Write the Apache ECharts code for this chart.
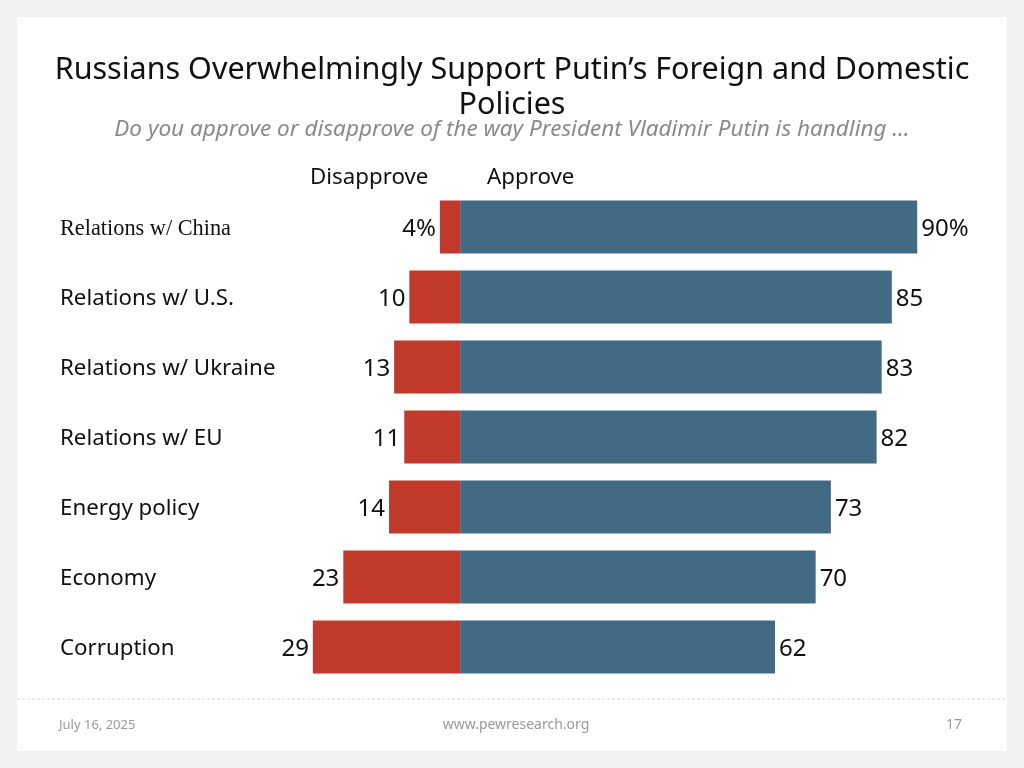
<!DOCTYPE html>
<html>
<head>
<meta charset="utf-8">
<script src="https://cdn.jsdelivr.net/npm/echarts@6/dist/echarts.min.js"></script>
<style>
html,body{margin:0;padding:0;background:#f2f2f2;}
#c{width:1024px;height:768px;}
</style>
</head>
<body>
<div id="c"></div>
<script>
const categories = ['Relations w/ China','Relations w/ U.S.','Relations w/ Ukraine','Relations w/ EU','Energy policy','Economy','Corruption'];
const disapprove = [4, 10, 13, 11, 14, 23, 29];
const approve = [90, 85, 83, 82, 73, 70, 62];
const seriesNames = ['Disapprove', 'Approve'];

const chart = echarts.init(document.getElementById('c'));
const sans = '"Noto Sans", "Open Sans", sans-serif';
chart.setOption({
  backgroundColor: '#f2f2f2',
  animation: false,
  title: [{
    text: 'Russians Overwhelmingly Support Putin\u2019s Foreign and Domestic\nPolicies',
    left: 'center', top: 48,
    textStyle: {fontFamily: sans, fontSize: 30.5, fontWeight: 'normal', color: '#111', lineHeight: 35}
  }, {
    text: 'Do you approve or disapprove of the way President Vladimir Putin is handling \u2026',
    left: 'center', top: 113,
    textStyle: {fontFamily: sans, fontSize: 22.5, fontStyle: 'italic', fontWeight: 'normal', color: '#8a8a8a'}
  }],
  graphic: [
    {type: 'rect', z: -10, shape: {x: 17, y: 17, width: 990, height: 734}, style: {fill: '#ffffff'}},
    {type: 'line', shape: {x1: 17, y1: 699, x2: 1007, y2: 699}, style: {stroke: '#d8d8d8', lineWidth: 1, lineDash: [3, 2]}},
    {type: 'text', x: 310, y: 178, style: {text: seriesNames[0], fontFamily: sans, fontSize: 22.3, fill: '#111', verticalAlign: 'middle'}},
    {type: 'text', x: 487, y: 178, style: {text: seriesNames[1], fontFamily: sans, fontSize: 22.3, fill: '#111', verticalAlign: 'middle'}},
    {type: 'text', x: 59, y: 725, style: {text: 'July 16, 2025', fontFamily: sans, fontSize: 13, fill: '#9a9a9a', verticalAlign: 'middle'}},
    {type: 'text', x: 516, y: 725, style: {text: 'www.pewresearch.org', fontFamily: sans, fontSize: 14, fill: '#9a9a9a', align: 'center', verticalAlign: 'middle'}},
    {type: 'text', x: 962, y: 725, style: {text: '17', fontFamily: sans, fontSize: 14, fill: '#9a9a9a', align: 'right', verticalAlign: 'middle'}}
  ],
  grid: {left: 257, right: 56, top: 192, bottom: 86, containLabel: false},
  xAxis: {type: 'value', min: -40, max: 100, show: false},
  yAxis: {
    type: 'category', data: categories, inverse: true,
    axisLine: {show: false}, axisTick: {show: false}, splitLine: {show: false},
    axisLabel: {
      align: 'left', margin: 197, fontFamily: sans, fontSize: 22.3, color: '#111',
      padding: [4, 0, 0, 0],
      formatter: (v, i) => i === 0 ? '{s|' + v + '}' : v,
      rich: {s: {fontFamily: '"Liberation Serif", "Times New Roman", serif', fontSize: 22.3, color: '#111'}}
    }
  },
  series: [{
    name: seriesNames[0], type: 'bar', barWidth: 53, barGap: '-100%',
    data: disapprove.map(v => -v),
    itemStyle: {color: '#c0392b'},
    label: {show: true, position: 'left', distance: 4, offset: [0, 2], fontFamily: sans, fontSize: 24, color: '#111',
      formatter: p => Math.abs(p.value) + (p.dataIndex === 0 ? '%' : '')}
  }, {
    name: seriesNames[1], type: 'bar', barWidth: 53,
    data: approve,
    itemStyle: {color: '#436a84'},
    label: {show: true, position: 'right', distance: 4, offset: [0, 2], fontFamily: sans, fontSize: 24, color: '#111',
      formatter: p => p.value + (p.dataIndex === 0 ? '%' : '')}
  }]
});
</script>
</body>
</html>
